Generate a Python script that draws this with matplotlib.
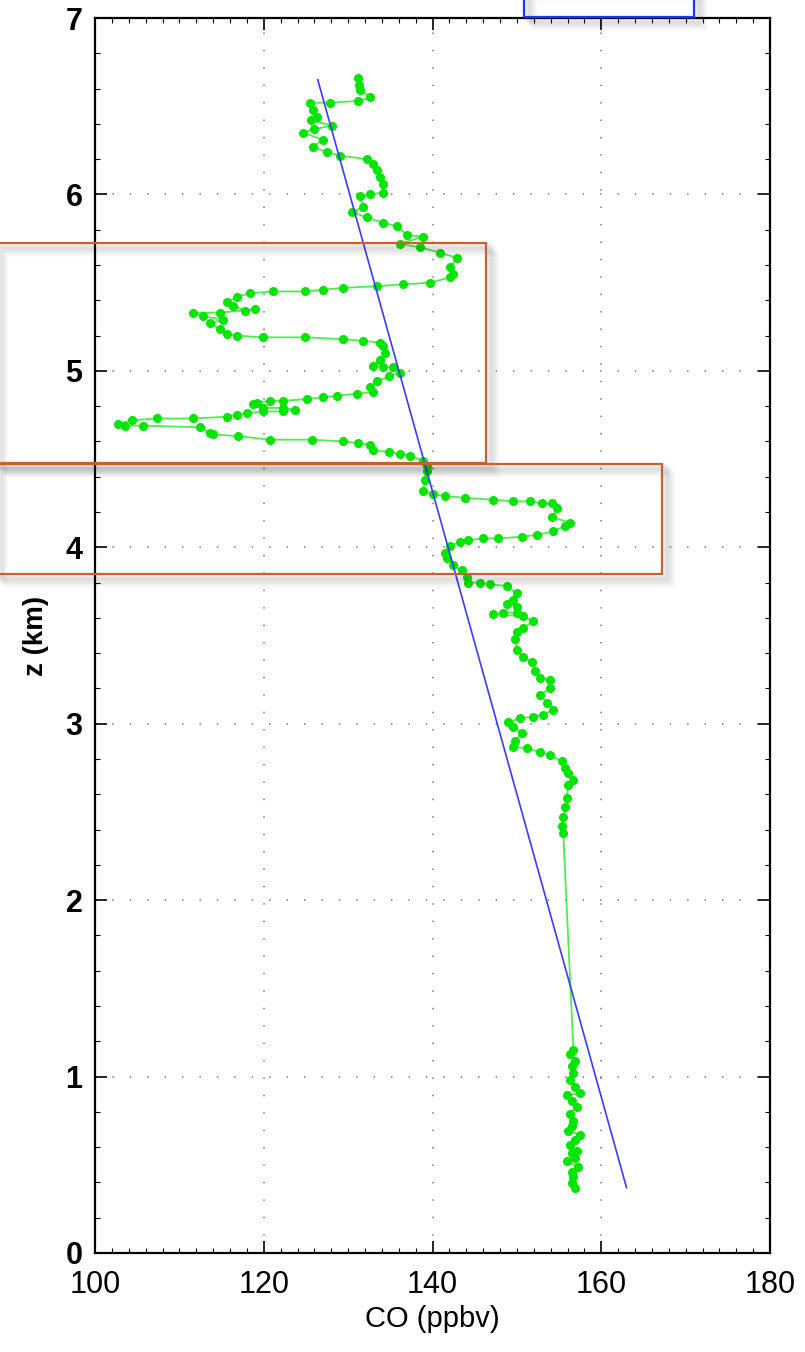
import matplotlib
matplotlib.use("Agg")
import matplotlib.pyplot as plt
from matplotlib.patches import Rectangle
from matplotlib.ticker import MultipleLocator

plt.rcParams['font.family'] = ['Liberation Sans', 'DejaVu Sans']

# ---- data ----
co_ppbv = [131.2, 131.3, 131.4, 132.6, 131.2, 127.9, 125.5, 125.8, 126.3, 125.6,
           128.1, 126.0, 124.7, 127.0, 125.8, 127.5, 129.0, 132.2, 133.0, 133.4,
           133.8, 134.1, 134.1, 132.6, 131.4, 131.8, 130.5, 132.2, 134.1, 135.8,
           137.0, 138.9, 136.1, 138.5, 140.9, 142.9, 142.1, 142.4, 142.1, 139.7,
           136.5, 133.4, 129.4, 127.0, 124.9, 121.1, 118.4, 116.8, 115.6, 116.4,
           117.8, 119.0, 114.8, 111.6, 112.8, 115.2, 113.6, 114.8, 115.6, 116.8,
           119.9, 124.9, 129.4, 131.8, 133.8, 134.1, 134.4, 133.8, 132.9, 134.1,
           135.3, 136.1, 134.9, 133.4, 132.6, 132.9, 131.0, 128.7, 127.0, 125.1,
           122.3, 120.7, 119.2, 118.7, 119.9, 122.3, 123.7, 122.3, 119.9, 118.0,
           116.8, 115.6, 111.6, 107.3, 104.4, 102.7, 103.6, 105.7, 112.4, 113.6,
           114.0, 116.9, 120.7, 125.7, 129.4, 131.2, 132.6, 132.9, 134.9, 136.1,
           137.3, 138.9, 139.3, 139.3, 139.1, 138.9, 140.1, 141.5, 143.9, 147.2,
           149.5, 151.6, 153.0, 154.2, 154.8, 154.2, 156.3, 155.7, 154.3, 152.4,
           150.6, 147.8, 146.0, 144.2, 143.3, 142.1, 141.5, 141.7, 142.4, 143.5,
           144.1, 144.2, 145.6, 146.8, 148.8, 150.0, 149.5, 148.8, 150.0, 150.0,
           148.4, 147.2, 150.7, 151.9, 150.7, 150.0, 149.8, 150.0, 150.7, 151.8,
           152.1, 152.7, 153.9, 153.9, 152.7, 153.6, 154.3, 153.1, 151.9, 150.4,
           149.0, 149.5, 150.6, 149.8, 149.5, 151.2, 152.7, 153.9, 155.3, 155.7,
           156.1, 156.7, 156.1, 155.9, 155.7, 155.5, 155.3, 155.5,
           156.7, 156.3, 156.9, 156.5, 156.7, 156.3, 156.9, 157.5, 155.9, 156.5,
           157.1, 156.3, 156.7, 156.5, 156.1, 157.5, 156.9, 156.3, 157.1, 156.5,
           156.9, 155.9, 157.3, 156.5, 156.7, 156.5, 156.9]
z_km = [6.66, 6.62, 6.59, 6.55, 6.53, 6.52, 6.52, 6.48, 6.44, 6.42,
        6.39, 6.37, 6.35, 6.31, 6.27, 6.24, 6.22, 6.20, 6.17, 6.14,
        6.10, 6.06, 6.01, 6.00, 5.99, 5.93, 5.90, 5.87, 5.84, 5.82,
        5.77, 5.76, 5.72, 5.70, 5.67, 5.64, 5.59, 5.55, 5.53, 5.50,
        5.49, 5.48, 5.47, 5.46, 5.45, 5.45, 5.44, 5.42, 5.39, 5.37,
        5.34, 5.35, 5.33, 5.33, 5.31, 5.29, 5.27, 5.24, 5.21, 5.20,
        5.19, 5.19, 5.18, 5.17, 5.16, 5.14, 5.10, 5.06, 5.03, 5.02,
        5.02, 4.99, 4.97, 4.94, 4.91, 4.88, 4.87, 4.86, 4.85, 4.84,
        4.83, 4.83, 4.82, 4.81, 4.79, 4.79, 4.78, 4.77, 4.77, 4.76,
        4.75, 4.74, 4.73, 4.73, 4.72, 4.70, 4.69, 4.69, 4.68, 4.65,
        4.64, 4.63, 4.61, 4.61, 4.60, 4.59, 4.58, 4.55, 4.54, 4.53,
        4.52, 4.49, 4.46, 4.43, 4.38, 4.32, 4.30, 4.29, 4.28, 4.27,
        4.26, 4.26, 4.25, 4.25, 4.22, 4.17, 4.14, 4.12, 4.09, 4.07,
        4.06, 4.05, 4.05, 4.04, 4.03, 4.01, 3.97, 3.94, 3.90, 3.87,
        3.83, 3.80, 3.80, 3.79, 3.78, 3.74, 3.70, 3.68, 3.66, 3.63,
        3.63, 3.62, 3.61, 3.58, 3.54, 3.52, 3.48, 3.42, 3.38, 3.35,
        3.30, 3.26, 3.25, 3.20, 3.16, 3.12, 3.08, 3.05, 3.04, 3.03,
        3.01, 2.98, 2.95, 2.90, 2.87, 2.86, 2.84, 2.82, 2.79, 2.75,
        2.72, 2.68, 2.65, 2.58, 2.53, 2.47, 2.42, 2.38,
        1.15, 1.13, 1.09, 1.06, 1.02, 0.98, 0.94, 0.905, 0.895, 0.86,
        0.83, 0.79, 0.75, 0.72, 0.69, 0.67, 0.64, 0.61, 0.58, 0.565,
        0.54, 0.52, 0.49, 0.46, 0.43, 0.395, 0.37]

fit_co = [126.4, 163.0]
fit_z = [6.65, 0.37]

x_ticks = [100, 120, 140, 160, 180]
y_ticks = [0, 1, 2, 3, 4, 5, 6, 7]

# ---- figure ----
W, H = 805, 1352
fig = plt.figure(figsize=(W / 100, H / 100), dpi=100)
ax = fig.add_axes([95 / W, 1 - 1253 / H, (770 - 95) / W, (1253 - 18) / H])

ax.plot(co_ppbv, z_km, color='#00e600', lw=1.3, alpha=0.7, zorder=3)
ax.plot(co_ppbv, z_km, ls='none', marker='o', ms=5.5, color='#00e600',
        mec='#00e600', zorder=4)
ax.plot(fit_co, fit_z, color='#3b3bff', lw=1.2, zorder=5)

ax.set_xlim(100, 180)
ax.set_ylim(0, 7)
ax.set_xticks(x_ticks)
ax.set_yticks(y_ticks)
ax.xaxis.set_minor_locator(MultipleLocator(2))
ax.yaxis.set_minor_locator(MultipleLocator(0.2))

ax.grid(True, which='major', color='#707070', lw=1.1, linestyle=(0, (0.9, 10.5)))
ax.tick_params(which='both', direction='in', top=True, right=True, color='black')
ax.tick_params(which='major', length=8.5, width=1.2, labelsize=22)
ax.tick_params(axis='x', which='major', pad=12)
ax.tick_params(axis='y', which='major', pad=9)
ax.tick_params(which='minor', length=3.5, width=0.8)
for s in ax.spines.values():
    s.set_linewidth(1.6)
    s.set_color('black')

for lab in ax.get_yticklabels():
    lab.set_fontweight('bold')

ax.set_xlabel('CO (ppbv)', fontsize=21, labelpad=4)
ax.set_ylabel('z (km)', fontsize=20, fontweight='bold', labelpad=12)


# ---- annotation boxes (figure pixel coordinates) ----
def box(x0, y0, x1, y1, color, z=10):
    # soft drop shadow
    for i, a in enumerate([0.05, 0.05, 0.04, 0.03, 0.02]):
        off = 3 + i * 2
        r = Rectangle(((x0 + off) / W, 1 - (y1 + off) / H), (x1 - x0) / W, (y1 - y0) / H,
                      transform=fig.transFigure, fill=False,
                      edgecolor='black', alpha=a, lw=4, zorder=z - 1)
        fig.add_artist(r)
    r = Rectangle((x0 / W, 1 - y1 / H), (x1 - x0) / W, (y1 - y0) / H,
                  transform=fig.transFigure, fill=False, edgecolor=color,
                  lw=1.6, zorder=z)
    fig.add_artist(r)


box(-5, 243, 486, 463, '#c8602a')
box(-5, 464, 662, 574, '#c8602a')
box(524, -10, 694, 17, '#1a33ff')

fig.savefig('out.png', dpi=100)
